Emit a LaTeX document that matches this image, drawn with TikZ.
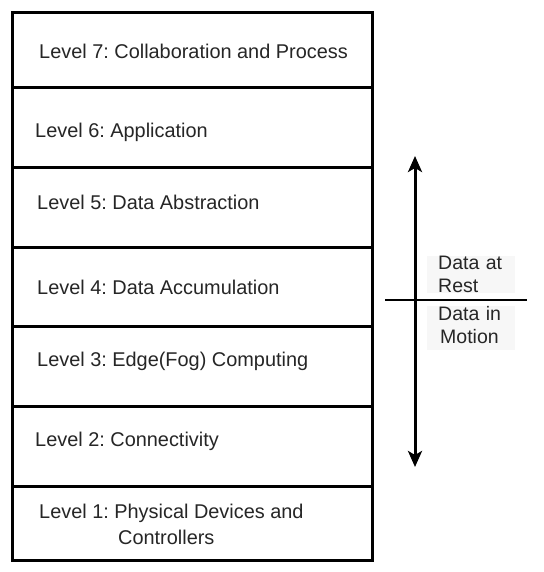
\documentclass[tikz,border=0pt]{standalone}
\usepackage{fontspec}
\setmainfont{Liberation Sans}
\frenchspacing
\usetikzlibrary{arrows.meta}
\begin{document}
\begin{tikzpicture}[x=1pt,y=-1pt,
  layer/.style={draw,line width=2.6pt,inner sep=0pt,minimum width=360pt,anchor=north west},
  lbl/.style={anchor=west,inner sep=0pt,font=\fontsize{19.9}{22}\selectfont,text=black!85},
  side/.style={anchor=north west,inner sep=0pt,text width=88pt,align=left,fill=black!3,font=\fontsize{19.5}{23}\selectfont,text=black!85}]
\useasboundingbox (0,0) rectangle (543,572);
\fill[white] (0,0) rectangle (543,572);
% layers
\node[layer,minimum height=75pt] (l7) at (11,11) {};
\node[layer,minimum height=80pt] (l6) at (11,86) {};
\node[layer,minimum height=80pt] (l5) at (11,166) {};
\node[layer,minimum height=79pt] (l4) at (11,246) {};
\node[layer,minimum height=80pt] (l3) at (11,325) {};
\node[layer,minimum height=80pt] (l2) at (11,405) {};
\node[layer,minimum height=74pt] (l1) at (11,485) {};
% labels
\node[lbl] (t7) at (39,51) {Level 7: Collaboration and Process};
\node[lbl] (t6) at (35,132) {Level 6: Application};
\node[lbl] (t5) at (37,202) {Level 5: Data Abstraction};
\node[lbl] (t4) at (37,287) {Level 4: Data Accumulation};
\node[lbl] (t3) at (37,361) {Level 3: Edge(Fog) Computing};
\node[lbl] (t2) at (35,441) {Level 2: Connectivity};
\node[lbl] (t1) at (39,513) {Level 1: Physical Devices and};
\node[lbl] (t1b) at (118,537) {Controllers};
% side labels
\node[side] (rest) at (427,256) {\hspace*{11pt}Data at\\\hspace*{11pt}Rest};
\node[side] (motion) at (427,306) {\hspace*{11pt}Data in\\\hspace*{13pt}Motion\strut};
% arrow and divider
\coordinate (atop) at (415,156);
\coordinate (abot) at (415,467);
\draw[line width=3pt,{Stealth[length=16pt,width=14pt,inset=4pt]}-{Stealth[length=16pt,width=14pt,inset=4pt]}] (atop) -- (abot);
\coordinate (dl) at (385,300);
\coordinate (dr) at (527,300);
\draw[line width=2.6pt] (dl) -- (dr);
\end{tikzpicture}
\end{document}
